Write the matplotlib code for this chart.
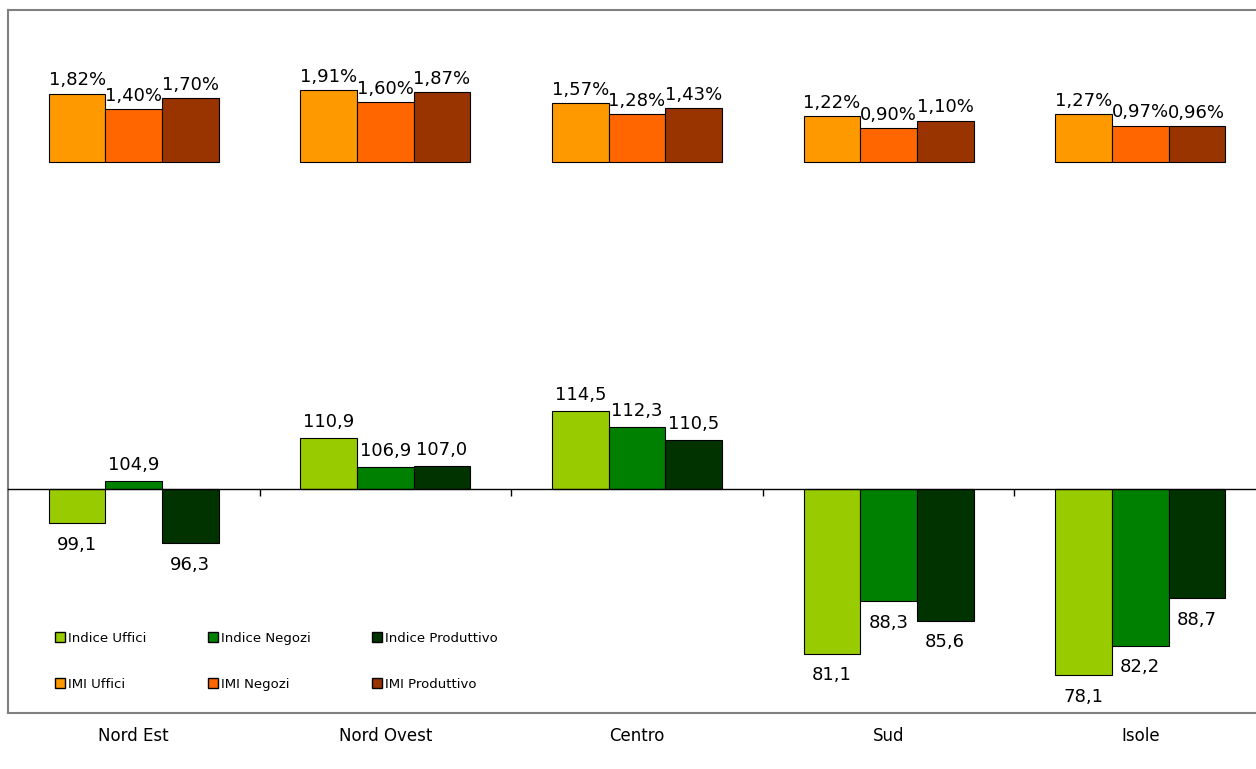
import matplotlib.pyplot as plt
import numpy as np
from matplotlib.patches import Patch

regioni = ['Nord Est', 'Nord Ovest', 'Centro', 'Sud', 'Isole']

indice_uffici = [99.1, 110.9, 114.5, 81.1, 78.1]
indice_negozi = [104.9, 106.9, 112.3, 88.3, 82.2]
indice_produttivo = [96.3, 107.0, 110.5, 85.6, 88.7]

imi_uffici = [1.82, 1.91, 1.57, 1.22, 1.27]
imi_negozi = [1.40, 1.60, 1.28, 0.90, 0.97]
imi_produttivo = [1.70, 1.87, 1.43, 1.10, 0.96]

# l'asse delle categorie dell'indice incrocia a questo valore (come in Excel)
base_indice = 103.8

col_indice = ['#99CC00', '#008000', '#003300']
col_imi = ['#FF9900', '#FF6600', '#993300']

W, H = 1256, 769
fig = plt.figure(figsize=(W / 100, H / 100), dpi=100)
rect = [8 / W, (H - 713) / H, 1258 / W, 703 / H]
ax = fig.add_axes(rect)
ax2 = fig.add_axes(rect, facecolor='none')  # asse secondario indipendente

x = np.arange(len(regioni))
w = 0.225

# IMI (asse principale)
for i, (vals, c) in enumerate(zip([imi_uffici, imi_negozi, imi_produttivo], col_imi)):
    pos = x + (i - 1) * w
    ax.bar(pos, vals, w, color=c, edgecolor='black', linewidth=0.8)
    for p, v in zip(pos, vals):
        ax.annotate(f'{v:.2f}%'.replace('.', ','), (p, v), xytext=(0, 3),
                    textcoords='offset points', ha='center', va='bottom', fontsize=13)

# Indici (asse secondario)
for i, (vals, c) in enumerate(zip([indice_uffici, indice_negozi, indice_produttivo], col_indice)):
    pos = x + (i - 1) * w
    alt = np.array(vals) - base_indice
    ax2.bar(pos, alt, w, bottom=base_indice, color=c, edgecolor='black', linewidth=0.8)
    for p, v in zip(pos, vals):
        if v >= base_indice:
            ax2.annotate(f'{v:.1f}'.replace('.', ','), (p, v), xytext=(0, 5),
                         textcoords='offset points', ha='center', va='bottom', fontsize=13)
        else:
            ax2.annotate(f'{v:.1f}'.replace('.', ','), (p, v), xytext=(0, -9),
                         textcoords='offset points', ha='center', va='top', fontsize=13)

for a in (ax, ax2):
    a.set_xlim(-0.5, len(regioni) - 0.5)
    a.set_yticks([])
ax.set_ylim(-(713 - 162) / 37.6, (162 - 10) / 37.6)
ax2.set_ylim(base_indice - (713 - 489) / 7.25, base_indice + (489 - 10) / 7.25)

# cornice
for s in ['left', 'top', 'bottom']:
    ax.spines[s].set_color('#808080')
    ax.spines[s].set_linewidth(1.5)
ax.spines['right'].set_visible(False)
for s in ['left', 'top', 'right']:
    ax2.spines[s].set_visible(False)
ax2.spines['bottom'].set_position(('data', base_indice))
ax2.spines['bottom'].set_linewidth(1.0)

ax.set_xticks(x)
ax.set_xticklabels(regioni, fontsize=12)
ax.tick_params(axis='x', length=0, pad=10)

ax2.set_xticks(np.arange(0.5, len(regioni) - 0.5, 1.0))
ax2.tick_params(axis='x', direction='out', length=5, width=1, labelbottom=False)

handles = []
for nome, c in zip(['Indice Uffici', 'Indice Negozi', 'Indice Produttivo'], col_indice):
    handles.append(Patch(facecolor=c, edgecolor='black', label=nome))
for nome, c in zip(['IMI Uffici', 'IMI Negozi', 'IMI Produttivo'], col_imi):
    handles.append(Patch(facecolor=c, edgecolor='black', label=nome))
ordine = [handles[0], handles[3], handles[1], handles[4], handles[2], handles[5]]
leg = ax2.legend(handles=ordine, ncol=3, frameon=False, fontsize=9.5,
                 handlelength=0.75, handleheight=0.75, handletextpad=0.25,
                 columnspacing=4.65, labelspacing=2.5,
                 loc='upper left', bbox_to_anchor=(35 / 1258, (713 - 620) / 703))

fig.savefig('out.png', dpi=100)
